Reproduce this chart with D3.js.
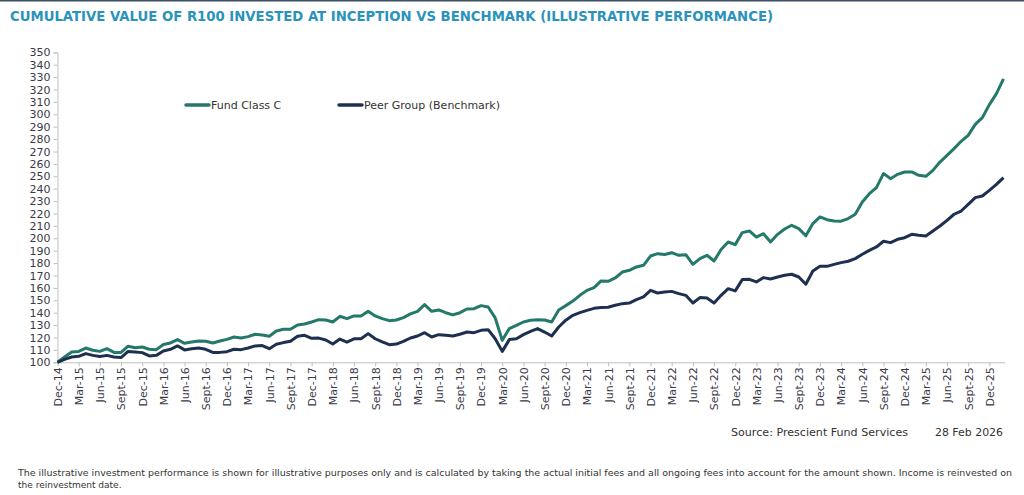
<!DOCTYPE html>
<html>
<head>
<meta charset="utf-8">
<script src="https://cdn.jsdelivr.net/npm/d3@7"></script>
<style>
  html, body { margin: 0; padding: 0; background: #fff; }
  svg { display: block; font-family: "DejaVu Sans", sans-serif; }
</style>
</head>
<body>
<div id="chart"></div>
<script>
// Monthly values, Dec-14 .. Feb-26 (135 points)
const fundClassC = [
  100, 104.3, 108.3, 108.8, 111.5, 109.7, 108.8, 111, 108, 108, 113, 111.8,
  112.3, 110.5, 110.2, 114.3, 115.6, 118.3, 115.3, 116.4, 117.2, 117, 115.6, 117.2,
  118.5, 120.4, 119.6, 120.7, 122.6, 122, 121, 125.3, 126.6, 126.6, 130.1, 130.9,
  132.5, 134.4, 134.1, 132.5, 137.1, 135.2, 137.4, 137.4, 141.1, 137.4, 135.2, 133.6,
  134.1, 136, 139, 141.1, 146.5, 141.1, 142.2, 140, 138.2, 140, 143, 143.2,
  145.7, 144.6, 135.8, 117.7, 127.2, 129.8, 132.5, 133.9, 134.4, 134.1, 132.5, 142.2,
  145.7, 149.4, 154, 158, 160.2, 165.6, 165.3, 168, 172.8, 174.2, 176.9, 178.2,
  185.7, 187.6, 187, 188.4, 186.3, 186.8, 179, 183.6, 186.3, 181.7, 190.9, 197,
  194.9, 204.6, 205.9, 201, 203.7, 197, 203.2, 207.5, 210.5, 207.8, 202, 211.9,
  217.2, 215, 214, 213.8, 215.9, 219.4, 229.3, 236, 240.9, 252.2, 248.1, 251.6,
  253.5, 253.5, 250.8, 250, 254.8, 261.5, 266.9, 272.3, 278.2, 283, 291.9, 297.3,
  307.8, 316.7, 328.5
];

const peerGroup = [
  100, 102.4, 104.3, 104.8, 107, 105.6, 104.6, 105.6, 104.3, 103.8, 108.8, 108.3,
  107.8, 105.1, 105.6, 109.1, 110.5, 113.2, 110, 111, 111.5, 110.5, 108, 108,
  108.6, 110.5, 110.2, 111.5, 113.2, 113.5, 111, 114.5, 115.9, 117, 121, 121.8,
  119.3, 119.5, 118, 114.8, 118.7, 116.2, 118.9, 119, 123.1, 119, 116.4, 114.2,
  114.7, 116.9, 119.6, 121.2, 123.9, 120.4, 122.3, 121.8, 121.2, 122.6, 124.4, 123.9,
  125.8, 126.3, 119, 108.8, 118.3, 119, 122.3, 125, 127.2, 124.4, 121.2, 128.5,
  134, 137.9, 140, 141.9, 143.5, 144.1, 144.4, 146, 147.3, 147.8, 150.5, 152.7,
  158, 155.9, 156.7, 157.2, 155.4, 154, 147.8, 152.2, 151.9, 147.8, 154, 159.4,
  157.6, 166.7, 166.9, 164.8, 168.3, 167.2, 168.8, 170.2, 171, 168.8, 163, 173.6,
  177.4, 177.4, 179, 180.4, 181.5, 183.6, 187.1, 190.3, 193, 197.6, 196.5, 199.2,
  200.5, 203.2, 202.4, 201.9, 205.9, 209.9, 214.5, 219.4, 222, 227.4, 232.8, 234.1,
  238.7, 243.5, 248.9
];

const firstMonth = new Date(2014, 11, 1);
const lastMonth = new Date(2026, 1, 1);
const yTicks = d3.range(100, 351, 10);

const seriesNames = ['Fund Class C', 'Peer Group (Benchmark)'];
const seriesColors = ['#24796a', '#1e3050'];

const titleText = 'CUMULATIVE VALUE OF R100 INVESTED AT INCEPTION VS BENCHMARK (ILLUSTRATIVE PERFORMANCE)';
const sourceText = 'Source: Prescient Fund Services';
const dateText = '28 Feb 2026';
const disclaimer = [
  'The illustrative investment performance is shown for illustrative purposes only and is calculated by taking the actual initial fees and all ongoing fees into account for the amount shown. Income is reinvested on',
  'the reinvestment date.'
];

const width = 1024, height = 495;

const months = d3.timeMonth.range(firstMonth, d3.timeMonth.offset(lastMonth, 1));
const fmt = d3.timeFormat('%b-%y');
const monthLabel = d => fmt(d).replace(/^Sep-/, 'Sept-');

const svg = d3.select('#chart').append('svg')
  .attr('width', width)
  .attr('height', height);

// top rule
svg.append('rect')
  .attr('x', 0).attr('y', 0)
  .attr('width', width).attr('height', 1.5)
  .attr('fill', '#3d4f63');

// title
svg.append('text')
  .attr('x', 10).attr('y', 21)
  .attr('font-size', 14)
  .attr('font-weight', 700)
  .attr('fill', '#2a93bb')
  .attr('textLength', 763)
  .attr('lengthAdjust', 'spacingAndGlyphs')
  .text(titleText);

const x = d3.scalePoint()
  .domain(d3.range(months.length))
  .range([57.5, 1003.5]);

const y = d3.scaleLinear()
  .domain([100, 350])
  .range([362.3, 52.3]);

// y axis
const yAxis = svg.append('g')
  .attr('transform', 'translate(57.5,0)')
  .call(d3.axisLeft(y).tickValues(yTicks).tickSize(4).tickPadding(3));
yAxis.select('.domain').attr('stroke', '#bfbfbf');
yAxis.selectAll('.tick line').attr('stroke', '#bfbfbf');
yAxis.selectAll('.tick text')
  .attr('font-size', 11)
  .attr('fill', '#3a3a48')
  .style('font-family', '"DejaVu Sans", sans-serif');

// x axis
const xTickIdx = d3.range(0, months.length, 3);
const xAxis = svg.append('g')
  .attr('transform', `translate(0,${y(100)})`)
  .call(d3.axisBottom(x)
    .tickValues(xTickIdx)
    .tickFormat(i => monthLabel(months[i]))
    .tickSize(4)
    .tickSizeOuter(0));
xAxis.select('.domain')
  .attr('stroke', '#bfbfbf')
  .attr('d', `M57.5,0.5H1005`);
xAxis.selectAll('.tick line').attr('stroke', '#bfbfbf');
xAxis.selectAll('.tick text')
  .attr('font-size', 11)
  .attr('fill', '#3a3a48')
  .style('font-family', '"DejaVu Sans", sans-serif')
  .attr('transform', 'rotate(-90)')
  .attr('text-anchor', 'end')
  .attr('x', -5)
  .attr('y', 0)
  .attr('dy', '0.35em');

// lines
const line = d3.line()
  .x((d, i) => x(i))
  .y(d => y(d));

[fundClassC, peerGroup].forEach((values, k) => {
  svg.append('path')
    .datum(values)
    .attr('fill', 'none')
    .attr('stroke', seriesColors[k])
    .attr('stroke-width', 3)
    .attr('stroke-linejoin', 'round')
    .attr('d', line);
});

// legend
const legendX = [185, 338];
seriesNames.forEach((name, k) => {
  const g = svg.append('g').attr('transform', `translate(${legendX[k]},105)`);
  g.append('line')
    .attr('x1', 1).attr('x2', 24)
    .attr('y1', 0).attr('y2', 0)
    .attr('stroke', seriesColors[k])
    .attr('stroke-width', 3.5)
    .attr('stroke-linecap', 'round');
  g.append('text')
    .attr('x', 26).attr('y', 0)
    .attr('dy', '0.35em')
    .attr('font-size', 11)
    .attr('fill', '#333')
    .text(name);
});

// source
svg.append('text')
  .attr('x', 908).attr('y', 436)
  .attr('text-anchor', 'end')
  .attr('font-size', 11)
  .attr('fill', '#333')
  .attr('textLength', 177)
  .attr('lengthAdjust', 'spacingAndGlyphs')
  .text(sourceText);
svg.append('text')
  .attr('x', 1003).attr('y', 436)
  .attr('text-anchor', 'end')
  .attr('font-size', 11)
  .attr('fill', '#333')
  .attr('textLength', 68)
  .attr('lengthAdjust', 'spacingAndGlyphs')
  .text(dateText);

// disclaimer
svg.append('text')
  .attr('x', 18).attr('y', 476)
  .attr('font-size', 9)
  .attr('fill', '#333')
  .attr('textLength', 994)
  .attr('lengthAdjust', 'spacingAndGlyphs')
  .text(disclaimer[0]);
svg.append('text')
  .attr('x', 18).attr('y', 488)
  .attr('font-size', 9)
  .attr('fill', '#333')
  .text(disclaimer[1]);
</script>
</body>
</html>
